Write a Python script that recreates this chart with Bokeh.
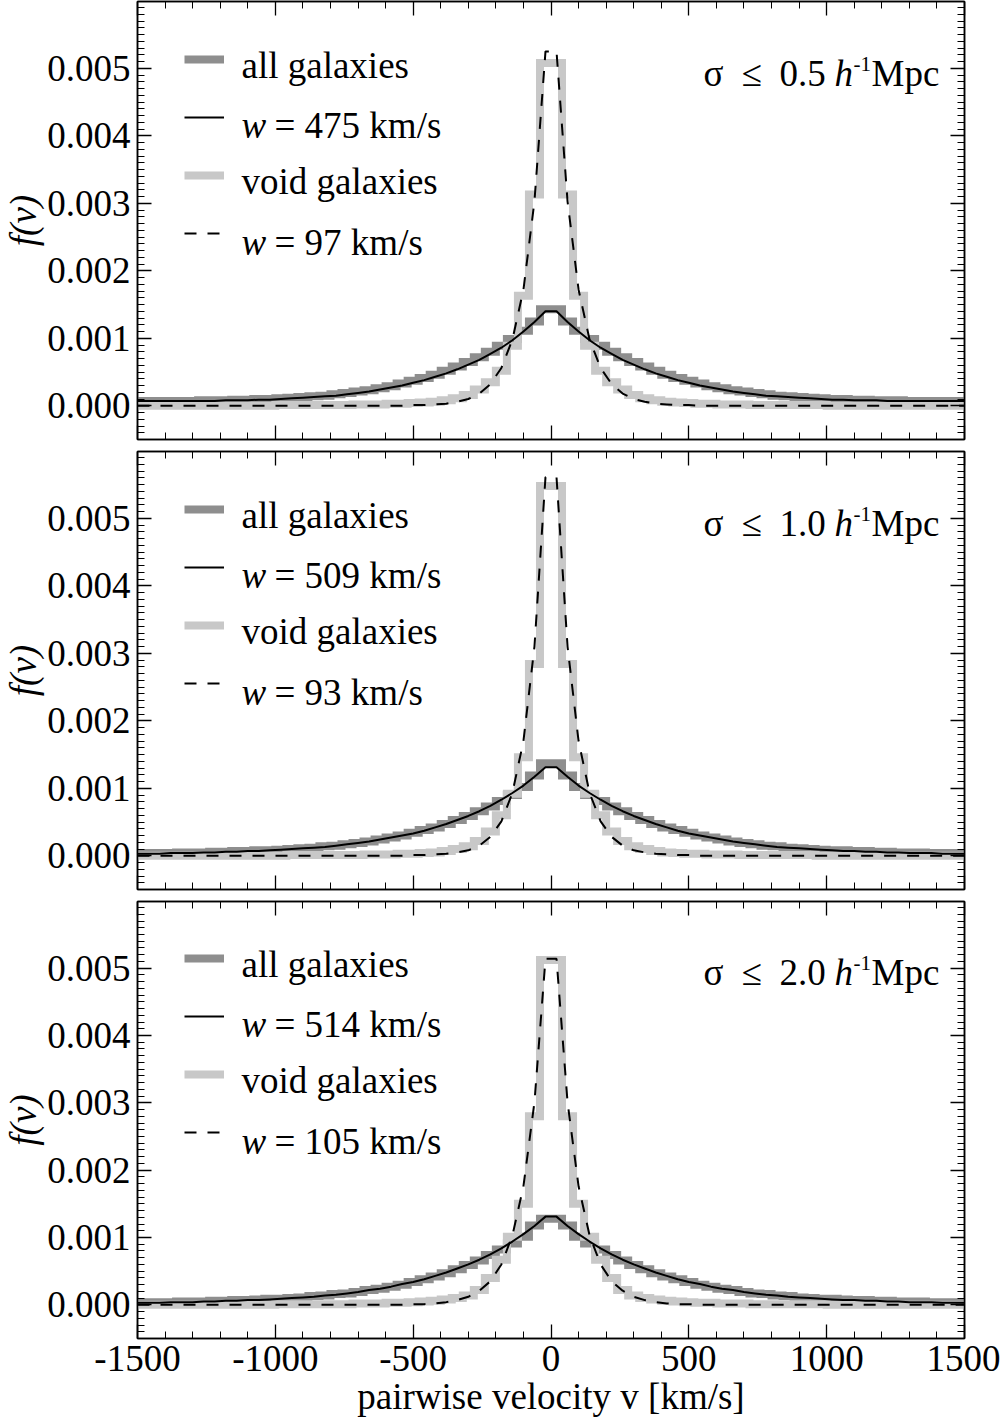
from bokeh.plotting import figure
from bokeh.models import (Range1d, LinearAxis, SingleIntervalTicker, Label, Legend, LegendItem,
                          NumeralTickFormatter, CustomLabelingPolicy)
from bokeh.core.properties import value
from bokeh.layouts import column
from bokeh.embed import file_html
from bokeh.resources import INLINE

SERIF = "Liberation Serif"
FS = "37px"
DARK = "#8e8e8e"
LIGHT = "#c8c8c8"
WIDTH = 1000
FRAME_H = 438
LEFT, RIGHT = 136, 36
PANEL_TOP, PANEL_GAP = 1, 11
BOTTOM_AXIS = 1419 - 2 * (PANEL_TOP + FRAME_H + PANEL_GAP) - (PANEL_TOP + FRAME_H)

# centres of the 40 km/s bins of the folded |v| distribution (mirrored for v < 0)
bin_centres = list(range(20, 1540, 40))

# sigma <= 0.5 Mpc/h
all_hist_05 = [0.00143, 0.00125, 0.00111, 0.00099, 0.00089, 0.00080, 0.00072, 0.00065, 0.00058, 0.00052,
               0.00046, 0.00041, 0.00037, 0.00033, 0.00029, 0.00026, 0.00023, 0.00021, 0.00019, 0.00017,
               0.00015, 0.00014, 0.00013, 0.00012, 0.00011, 0.00010, 0.00010, 0.00009, 0.00009, 0.00008,
               0.00008, 0.00008, 0.00007, 0.00007, 0.00007, 0.00007, 0.00007, 0.00007]
all_model_05 = [0.00140, 0.00124, 0.00110, 0.00097, 0.00086, 0.00077, 0.00068, 0.00061, 0.00054, 0.00048,
                0.00043, 0.00038, 0.00034, 0.00030, 0.00027, 0.00024, 0.00021, 0.00019, 0.00017, 0.00015,
                0.00014, 0.00013, 0.00012, 0.00011, 0.00010, 0.00009, 0.00009, 0.00008, 0.00008, 0.00008,
                0.00007, 0.00007, 0.00007, 0.00007, 0.00007, 0.00007, 0.00007, 0.00007]
void_hist_05 = [0.00508, 0.00313, 0.00163, 0.00089, 0.00052, 0.00035, 0.00024, 0.00016, 0.00011, 0.00008,
                0.00006, 0.00005, 0.00004, 0.00003, 0.00003, 0.00002, 0.00002, 0.00002, 0.00001, 0.00001,
                0.00001, 0.00001, 0.00001, 0.00001, 0.00001] + [0.0] * 13
void_model_05 = [0.00525, 0.00303, 0.00172, 0.00098, 0.00056, 0.00032, 0.00018, 0.00010, 0.00006, 0.00003,
                 0.00002, 0.00001, 0.00001] + [0.0] * 25

# sigma <= 1.0 Mpc/h
all_hist_10 = [0.00137, 0.00119, 0.00102, 0.00090, 0.00081, 0.00073, 0.00066, 0.00059, 0.00053, 0.00047,
               0.00042, 0.00038, 0.00034, 0.00030, 0.00027, 0.00024, 0.00021, 0.00019, 0.00017, 0.00015,
               0.00014, 0.00012, 0.00011, 0.00010, 0.00009, 0.00008, 0.00008, 0.00007, 0.00007, 0.00006,
               0.00006, 0.00005, 0.00005, 0.00005, 0.00004, 0.00004, 0.00004, 0.00004]
all_model_10 = [0.00131, 0.00117, 0.00104, 0.00093, 0.00083, 0.00074, 0.00066, 0.00059, 0.00053, 0.00047,
                0.00042, 0.00037, 0.00033, 0.00030, 0.00027, 0.00024, 0.00021, 0.00019, 0.00017, 0.00015,
                0.00013, 0.00012, 0.00011, 0.00010, 0.00009, 0.00008, 0.00007, 0.00007, 0.00006, 0.00006,
                0.00005, 0.00005, 0.00004, 0.00004, 0.00004, 0.00003, 0.00003, 0.00003]
void_hist_10 = [0.00548, 0.00284, 0.00146, 0.00092, 0.00060, 0.00036, 0.00022, 0.00014, 0.00010, 0.00007,
                0.00005, 0.00004, 0.00003, 0.00003, 0.00002, 0.00002, 0.00002, 0.00001, 0.00001, 0.00001,
                0.00001, 0.00001, 0.00001, 0.00001] + [0.0] * 14
void_model_10 = [0.00561, 0.00310, 0.00170, 0.00093, 0.00051, 0.00028, 0.00015, 0.00008, 0.00005, 0.00003,
                 0.00002, 0.00001, 0.00001] + [0.0] * 25

# sigma <= 2.0 Mpc/h
all_hist_20 = [0.00128, 0.00118, 0.00101, 0.00091, 0.00082, 0.00074, 0.00066, 0.00059, 0.00053, 0.00047,
               0.00042, 0.00038, 0.00034, 0.00030, 0.00027, 0.00024, 0.00022, 0.00019, 0.00017, 0.00016,
               0.00014, 0.00013, 0.00011, 0.00010, 0.00009, 0.00009, 0.00008, 0.00007, 0.00007, 0.00006,
               0.00006, 0.00005, 0.00005, 0.00005, 0.00004, 0.00004, 0.00004, 0.00004]
all_model_20 = [0.00131, 0.00117, 0.00105, 0.00094, 0.00084, 0.00075, 0.00067, 0.00060, 0.00054, 0.00048,
                0.00043, 0.00038, 0.00034, 0.00031, 0.00027, 0.00024, 0.00022, 0.00019, 0.00017, 0.00015,
                0.00014, 0.00012, 0.00011, 0.00010, 0.00009, 0.00008, 0.00007, 0.00007, 0.00006, 0.00006,
                0.00005, 0.00005, 0.00004, 0.00004, 0.00004, 0.00003, 0.00003, 0.00003]
void_hist_20 = [0.00512, 0.00280, 0.00150, 0.00101, 0.00067, 0.00040, 0.00022, 0.00014, 0.00010, 0.00008,
                0.00006, 0.00005, 0.00004, 0.00003, 0.00003, 0.00002, 0.00002, 0.00002, 0.00001, 0.00001,
                0.00001, 0.00001, 0.00001, 0.00001, 0.00001] + [0.0] * 13
void_model_20 = [0.00514, 0.00301, 0.00176, 0.00103, 0.00060, 0.00035, 0.00021, 0.00012, 0.00007, 0.00004,
                 0.00002, 0.00001, 0.00001] + [0.0] * 25

sigma_labels = ["0.5", "1.0", "2.0"]
w_all_labels = ["475", "509", "514"]
w_void_labels = ["97", "93", "105"]
panel_series = [
    (all_hist_05, all_model_05, void_hist_05, void_model_05),
    (all_hist_10, all_model_10, void_hist_10, void_model_10),
    (all_hist_20, all_model_20, void_hist_20, void_model_20),
]


def mirrored(vals):
    xs = [-c for c in reversed(bin_centres)] + bin_centres
    ys = list(reversed(vals)) + list(vals)
    return xs, ys


def text(p, x, y, s, size=FS, style="normal"):
    # x, y in pixels from the top-left corner of the plot frame (y = baseline)
    p.add_layout(Label(x=x, y=FRAME_H - y, x_units="screen", y_units="screen", text=s,
                       text_font=SERIF, text_font_size=size, text_font_style=style,
                       text_color="black", text_align="left", text_baseline="alphabetic"))


def no_labels():
    # tick marks only: every tick label is filtered out
    return CustomLabelingPolicy(code="""
        for (const i of indices) { indices.unset(i) }
        return indices
    """)


def style_axis(ax, ticker, show_labels):
    ax.ticker = ticker
    ax.axis_line_color = "black"
    ax.axis_line_width = 1.5
    ax.major_tick_line_color = "black"
    ax.minor_tick_line_color = "black"
    ax.major_tick_line_width = 1.3
    ax.minor_tick_line_width = 1.0
    ax.major_tick_in = 14
    ax.major_tick_out = 0
    ax.minor_tick_in = 7
    ax.minor_tick_out = 0
    ax.major_label_text_font = SERIF
    ax.major_label_text_color = "black"
    if show_labels:
        ax.major_label_text_font_size = FS
    else:
        ax.major_label_text_font_size = "0px"
        ax.major_label_standoff = 0
        ax.major_label_policy = no_labels()


def x_ticker():
    return SingleIntervalTicker(interval=500, num_minor_ticks=5)


def y_ticker():
    return SingleIntervalTicker(interval=0.001, num_minor_ticks=10)


figs = []
for i, (a_hist, a_model, v_hist, v_model) in enumerate(panel_series):
    last = i == len(panel_series) - 1
    bottom = BOTTOM_AXIS if last else PANEL_GAP
    p = figure(width=WIDTH, height=PANEL_TOP + FRAME_H + bottom,
               x_range=Range1d(-1500, 1500), y_range=Range1d(-0.0005, 0.00599),
               output_backend="svg", toolbar_location=None,
               min_border_left=LEFT, min_border_right=RIGHT, min_border_top=PANEL_TOP,
               min_border_bottom=bottom,
               background_fill_color="white", border_fill_color="white",
               outline_line_color="black", outline_line_width=1.5)
    p.grid.visible = False

    xax = p.xaxis[0]
    style_axis(xax, x_ticker(), last)
    xax.formatter = NumeralTickFormatter(format="0")
    if last:
        xax.major_label_standoff = 7
        xax.axis_label = "pairwise velocity v [km/s]"
        xax.axis_label_text_font = SERIF
        xax.axis_label_text_font_size = FS
        xax.axis_label_text_font_style = "normal"
        xax.axis_label_text_color = "black"
        xax.axis_label_standoff = 2
    yax = p.yaxis[0]
    style_axis(yax, y_ticker(), True)
    yax.formatter = NumeralTickFormatter(format="0.000")
    yax.major_label_standoff = 7
    yax.axis_label = "f(v)"
    yax.axis_label_text_font = SERIF
    yax.axis_label_text_font_size = FS
    yax.axis_label_text_font_style = "italic"
    yax.axis_label_text_color = "black"
    yax.axis_label_standoff = 0

    top = LinearAxis()
    style_axis(top, x_ticker(), False)
    p.add_layout(top, "above")
    right = LinearAxis()
    style_axis(right, y_ticker(), False)
    p.add_layout(right, "right")

    hx, hy = mirrored(a_hist)
    r_all = p.step(hx, hy, mode="center", line_color=DARK, line_width=8, line_join="miter")
    hx, hy = mirrored(v_hist)
    r_void = p.step(hx, hy, mode="center", line_color=LIGHT, line_width=8, line_join="miter")
    mx, my = mirrored(a_model)
    r_fit_all = p.line(mx, my, line_color="black", line_width=2)
    mx, my = mirrored(v_model)
    r_fit_void = p.line(mx, my, line_color="black", line_width=2, line_dash="12 11")

    legend = Legend(items=[LegendItem(label=value(""), renderers=[r]) for r in
                           (r_all, r_fit_all, r_void, r_fit_void)],
                    location=(47, 196), glyph_width=40, glyph_height=20, label_height=20,
                    label_width=0, label_standoff=0, spacing=38, padding=0, margin=0,
                    border_line_alpha=0, background_fill_alpha=0,
                    label_text_font_size="1px")
    p.add_layout(legend)

    text(p, 104, 64, "all galaxies")
    text(p, 104, 124, "w", style="italic")
    text(p, 137, 124, f"= {w_all_labels[i]} km/s")
    text(p, 104, 180, "void galaxies")
    text(p, 104, 241, "w", style="italic")
    text(p, 137, 241, f"= {w_void_labels[i]} km/s")

    text(p, 566, 72, "σ")
    text(p, 604, 72, "≤")
    text(p, 642, 72, sigma_labels[i])
    text(p, 697, 72, "h", style="italic")
    text(p, 716, 62, "-1", size="21px")
    text(p, 734, 72, "Mpc")
    figs.append(p)

layout = column(*figs, spacing=0)
open("out.html", "w").write(file_html(layout, INLINE))
